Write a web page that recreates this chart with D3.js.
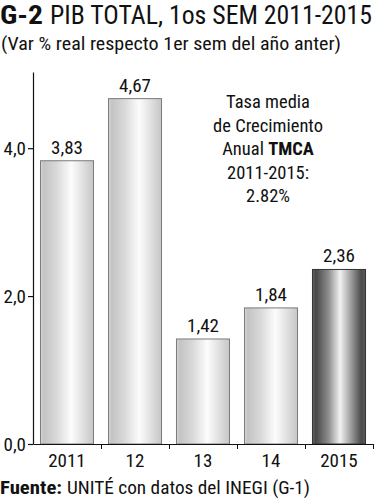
<!DOCTYPE html>
<html><head><meta charset="utf-8">
<script src="https://cdn.jsdelivr.net/npm/d3@7"></script>
<style>
html,body{margin:0;padding:0;background:#fff;}
svg{display:block;}
text{font-family:"Liberation Sans Narrow","Roboto Condensed","DejaVu Sans Condensed","Liberation Sans",sans-serif;fill:#111;}
</style></head>
<body>
<svg id="chart" width="380" height="500"></svg>
<script>
const categories = ["2011","12","13","14","2015"];
const values = [3.83, 4.67, 1.42, 1.84, 2.36];
const valueLabels = ["3,83","4,67","1,42","1,84","2,36"];
const yTicks = [0, 2, 4];
const yTickLabels = ["0,0","2,0","4,0"];
const highlight = [false,false,false,false,true];
const noteLines = ["Tasa media","de Crecimiento","Anual |TMCA","2011-2015:","2.82%"];

const svg = d3.select("#chart");
const defs = svg.append("defs");
const lg = defs.append("linearGradient").attr("id","gLight").attr("x1","0").attr("x2","1").attr("y1","0").attr("y2","0");
[[0,"#d6d6d6"],[0.06,"#c4c4c4"],[0.3,"#d8d8d8"],[0.58,"#fcfcfc"],[0.8,"#e0e0e0"],[1,"#c6c6c6"]].forEach(s=>lg.append("stop").attr("offset",s[0]).attr("stop-color",s[1]));
const dg = defs.append("linearGradient").attr("id","gDark").attr("x1","0").attr("x2","1").attr("y1","0").attr("y2","0");
[[0,"#666"],[0.06,"#484848"],[0.3,"#8c8c8c"],[0.52,"#f2f2f2"],[0.72,"#a0a0a0"],[0.92,"#4c4c4c"],[1,"#5a5a5a"]].forEach(s=>dg.append("stop").attr("offset",s[0]).attr("stop-color",s[1]));

// Title
svg.append("text").attr("x",0).attr("y",23.5).style("font-size","25.5px").style("font-weight","bold")
  .attr("textLength",43).attr("lengthAdjust","spacingAndGlyphs").text("G-2");
svg.append("text").attr("x",50).attr("y",23.5).style("font-size","25.5px")
  .attr("textLength",322).attr("lengthAdjust","spacingAndGlyphs").text("PIB TOTAL, 1os SEM 2011-2015");
svg.append("text").attr("x",1).attr("y",50).style("font-size","18px")
  .attr("textLength",340).attr("lengthAdjust","spacingAndGlyphs").text("(Var % real respecto 1er sem del año anter)");

const x = d3.scaleBand().domain(categories).range([33,373]).paddingInner(0.22).paddingOuter(0.11);
const y = d3.scaleLinear().domain([0,5.03]).range([444,72]);

// bars
svg.append("g").selectAll("rect").data(values).join("rect")
  .attr("x",(d,i)=>x(categories[i])).attr("width",x.bandwidth())
  .attr("y",d=>y(d)).attr("height",d=>y(0)-y(d))
  .attr("fill",(d,i)=>highlight[i]?"url(#gDark)":"url(#gLight)")
  .attr("stroke",(d,i)=>highlight[i]?"#333":"#7a7a7a").attr("stroke-width",1);

svg.append("g").selectAll("text").data(values).join("text")
  .attr("x",(d,i)=>x(categories[i])+x.bandwidth()/2).attr("y",d=>y(d)-7)
  .attr("text-anchor","middle").style("font-size","19px").text((d,i)=>valueLabels[i]);

// y axis
const ya = svg.append("g").attr("transform","translate(33,0)")
  .call(d3.axisLeft(y).tickValues(yTicks).tickFormat((d,i)=>yTickLabels[i]).tickSize(5).tickSizeOuter(0));
ya.select(".domain").attr("stroke","#111").attr("stroke-width",1.2);
ya.selectAll(".tick line").attr("stroke","#111").attr("stroke-width",1.2);
ya.selectAll(".tick text").attr("x",-7).attr("dy","0.34em").style("font-size","19px").style("font-family",null).attr("fill","#111");

// x axis
const xb = d3.scaleLinear().domain([0,5]).range([33,373]);
const xa = svg.append("g").attr("transform","translate(0,444)")
  .call(d3.axisBottom(xb).tickValues([1,2,3,4,5]).tickFormat("").tickSize(5).tickSizeOuter(0));
xa.select(".domain").attr("stroke","#111").attr("stroke-width",1.2);
xa.selectAll(".tick line").attr("stroke","#111");
svg.append("g").selectAll("text").data(categories).join("text")
  .attr("x",d=>x(d)+x.bandwidth()/2).attr("y",467).attr("text-anchor","middle")
  .style("font-size","19px").text(d=>d);

// note
const note = svg.append("g");
noteLines.forEach((l,i)=>{
  const tx = note.append("text").attr("x",268).attr("y",108+i*23.5).attr("text-anchor","middle").style("font-size","18.5px");
  const parts = l.split("|");
  tx.append("tspan").text(parts[0]);
  if(parts[1]) tx.append("tspan").text(parts[1]).style("font-weight","bold");
});

// footer
svg.append("text").attr("x",0).attr("y",494).style("font-size","18.5px").style("font-weight","bold")
  .attr("textLength",62).attr("lengthAdjust","spacingAndGlyphs").text("Fuente:");
svg.append("text").attr("x",67).attr("y",494).style("font-size","18.5px")
  .attr("textLength",243).attr("lengthAdjust","spacingAndGlyphs").text("UNITÉ con datos del INEGI (G-1)");
</script>
</body></html>
